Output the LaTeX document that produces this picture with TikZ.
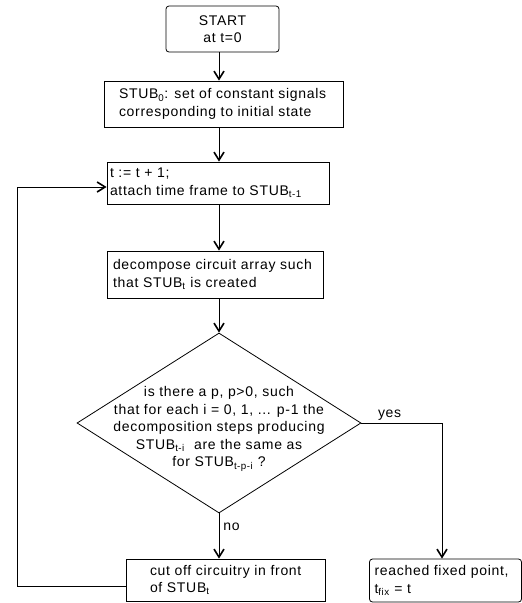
\documentclass[tikz,border=0pt]{standalone}
\usepackage{fontspec}
\setmainfont{Liberation Sans}[LetterSpace=5]
\usetikzlibrary{shapes.geometric,arrows.meta}
\newcommand{\idx}[1]{\textsubscript{#1}}

\begin{document}
\begin{tikzpicture}[x=1pt,y=-1pt,
    font=\fontsize{14}{17.5}\selectfont,
    line width=0.8pt,
    box/.style={draw,rectangle,inner sep=0pt},
    txt/.style={align=left,inner sep=0pt,anchor=west},
    decision/.style={draw,diamond,inner sep=0pt,minimum width=284pt,minimum height=180pt},
    arr/.style={-{Straight Barb[length=8pt,width=10pt,line width=1.6pt]}}]
      \useasboundingbox (0,0) rectangle (522,603);
      % boxes of the flow
      \node [box,rounded corners=3pt,minimum width=113pt,minimum height=46pt,align=center] (start) at (222.5,29) {START\\at t=0};
      \node [box,minimum width=239pt,minimum height=46pt] (stub0) at (223.5,104) {};
      \node [txt] (stub0txt) at ([xshift=15pt]stub0.west) {STUB\idx{0}: set of constant signals\\corresponding to initial state};
      \node [box,minimum width=222pt,minimum height=42pt] (incr) at (218,183) {};
      \node [txt] (incrtxt) at ([xshift=3pt]incr.west) {t := t + 1;\\attach time frame to STUB\idx{t-1}};
      \node [box,minimum width=216pt,minimum height=47pt] (decomp) at (215,274.5) {};
      \node [txt] (decomptxt) at ([xshift=6pt]decomp.west) {decompose circuit array such\\that STUB\idx{t} is created};
      \node [decision] (dec) at (219,423) {};
      \node [align=center,inner sep=0pt] (dectxt) at (219,429) {is there a p, p>0, such\\that for each i = 0, 1, ... p-1 the\\decomposition steps producing\\STUB\idx{t-i}\ \ are the same as\\for STUB\idx{t-p-i} ?};
      \node [box,minimum width=199pt,minimum height=42pt] (cut) at (225.5,580) {};
      \node [txt] (cuttxt) at ([xshift=24pt]cut.west) {cut off circuitry in front\\of STUB\idx{t}};
      \node [box,rounded corners=3pt,minimum width=152pt,minimum height=43pt] (fixed) at (445.5,580.5) {};
      \node [txt] (fixedtxt) at ([xshift=5pt]fixed.west) {reached fixed point,\\t\idx{fix} = t};
      \coordinate (yesturn) at (442,423);
      \coordinate (back) at (17,0);
      % connectors
      \draw [arr] (start.south -| dec.north) -- (stub0.north -| dec.north);
      \draw [arr] (stub0.south -| dec.north) -- (incr.north -| dec.north);
      \draw [arr] (incr.south -| dec.north) -- (decomp.north -| dec.north);
      \draw [arr] (decomp.south -| dec.north) -- (dec.north);
      \draw [arr] (dec.south) -- node [pos=0.3,right,inner sep=4pt] (no) {no} (cut.north -| dec.south);
      \draw [arr] (dec.east) -- node [pos=0.35,above,inner sep=2pt] (yes) {yes} (yesturn) -- (yesturn |- fixed.north);
      \draw [arr] ([yshift=-6pt]cut.west) -- ([yshift=-6pt]cut.west -| back) |- ([yshift=-4pt]incr.west);
\end{tikzpicture}
\end{document}
